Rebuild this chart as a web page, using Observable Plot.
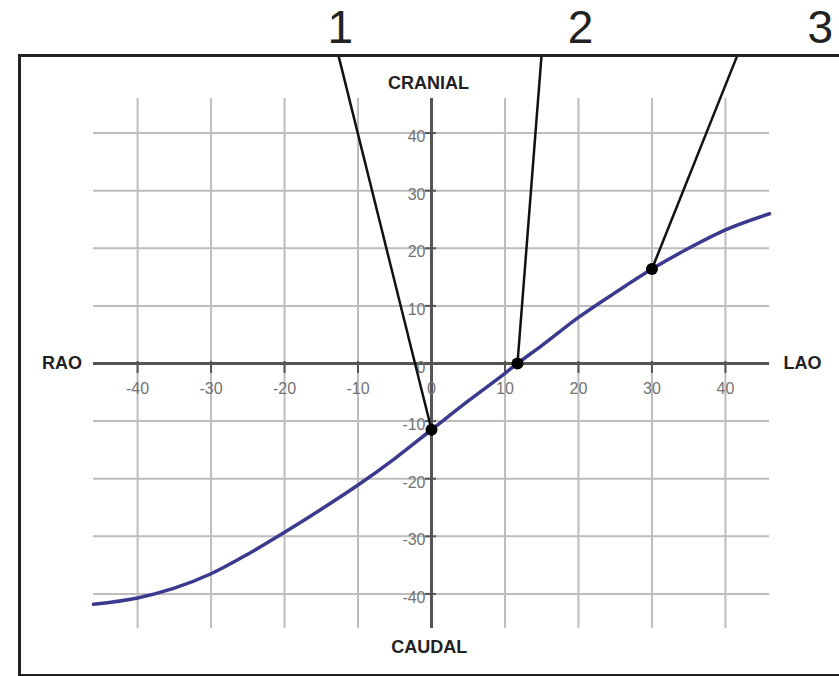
<!DOCTYPE html>
<html>
<head>
<meta charset="utf-8">
<script src="https://cdn.jsdelivr.net/npm/d3@7"></script>
<script src="https://cdn.jsdelivr.net/npm/@observablehq/plot@0.6"></script>
<style>
  html, body { margin: 0; padding: 0; background: #fff; }
  #chart svg { display: block; }
</style>
</head>
<body>
<div id="chart"></div>
<script>
// Curve: LAO/RAO angle (x) vs cranial/caudal angle (y)
const curveX = [-46, -40, -35, -30, -25, -20, -15, -10, -5, 0, 5, 10, 11.7, 15, 20, 25, 30, 35, 40, 46];
const curveY = [-41.8, -40.7, -39.0, -36.5, -33.1, -29.3, -25.3, -21.1, -16.5, -11.5, -6.5, -1.7, 0, 3.1, 8.0, 12.3, 16.4, 20.0, 23.2, 26.0];

// Marked views
const markerLabels = ["1", "2", "3"];
const markerX = [0, 11.7, 30];
const markerY = [-11.5, 0, 16.4];
const leaderTopX = [-12.65, 14.97, 41.6];
const leaderTopY = 53.4;
const markerLabelX = [-12.4, 20.3, 52.9];
const markerLabelY = 58.2;

// Ticks
const xTicks = [-40, -30, -20, -10, 0, 10, 20, 30, 40];
const yTicks = [-40, -30, -20, -10, 0, 10, 20, 30, 40];
const gridExtent = [-46, 46];

// Direction labels
const dirLabels = ["RAO", "LAO", "CRANIAL", "CAUDAL"];
const dirX = [-50.3, 50.5, -0.4, -0.3];
const dirY = [0, 0, 48.7, -49.2];

const curve = curveX.map((x, i) => ({x, y: curveY[i]}));
const markers = markerLabels.map((label, i) => ({
  label, x: markerX[i], y: markerY[i], tx: leaderTopX[i], lx: markerLabelX[i]
}));
const dirs = dirLabels.map((text, i) => ({text, x: dirX[i], y: dirY[i]}));
const gridX = xTicks.filter(d => d !== 0);
const gridY = yTicks.filter(d => d !== 0);

const plot = Plot.plot({
  width: 839,
  height: 676,
  marginLeft: 19,
  marginTop: 55,
  marginRight: -10,
  marginBottom: 1,
  style: {background: "#fff", fontFamily: "Liberation Sans, Arial, sans-serif"},
  x: {domain: gridExtent, range: [93, 769], axis: null},
  y: {domain: gridExtent, range: [628, 98], axis: null},
  marks: [
    // grid
    Plot.ruleX(gridX, {x: d => d, y1: gridExtent[0], y2: gridExtent[1], stroke: "#bdbdbd", strokeWidth: 2}),
    Plot.ruleY(gridY, {y: d => d, x1: gridExtent[0], x2: gridExtent[1], stroke: "#bdbdbd", strokeWidth: 2}),
    // main axes
    Plot.ruleY([0], {x1: gridExtent[0], x2: gridExtent[1], stroke: "#555", strokeWidth: 3}),
    Plot.ruleX([0], {y1: gridExtent[0], y2: gridExtent[1], stroke: "#555", strokeWidth: 3}),
    // tick marks
    Plot.ruleX(xTicks, {x: d => d, y1: 0, y2: 0, insetTop: -2, insetBottom: -10, stroke: "#555", strokeWidth: 2}),
    Plot.ruleY(yTicks, {y: d => d, x1: 0, x2: 0, insetLeft: -6, insetRight: -5, stroke: "#555", strokeWidth: 2}),
    // tick labels
    Plot.text(xTicks, {x: d => d, y: 0, text: d => String(d), dy: 25, fill: "#737373", fontSize: 16}),
    Plot.text(yTicks, {x: 0, y: d => d, text: d => String(d), dx: -6, dy: 4, textAnchor: "end", fill: "#737373", fontSize: 16}),
    // curve
    Plot.line(curve, {x: "x", y: "y", curve: "monotone-x", stroke: "#3a3a8e", strokeWidth: 3.5}),
    // leader lines
    Plot.link(markers, {x1: "x", y1: "y", x2: "tx", y2: () => leaderTopY, stroke: "#111", strokeWidth: 2.5}),
    Plot.dot(markers, {x: "x", y: "y", r: 6, fill: "#000"}),
    // frame
    Plot.frame({stroke: "#222", strokeWidth: 3}),
    // marker labels
    Plot.text(markers, {x: "lx", y: () => markerLabelY, text: "label", fontSize: 46, fill: "#222"}),
    // direction labels
    Plot.text(dirs, {x: "x", y: "y", text: "text", fontSize: 18, fontWeight: "bold", fill: "#222"})
  ]
});
document.getElementById("chart").append(plot);
</script>
</body>
</html>
